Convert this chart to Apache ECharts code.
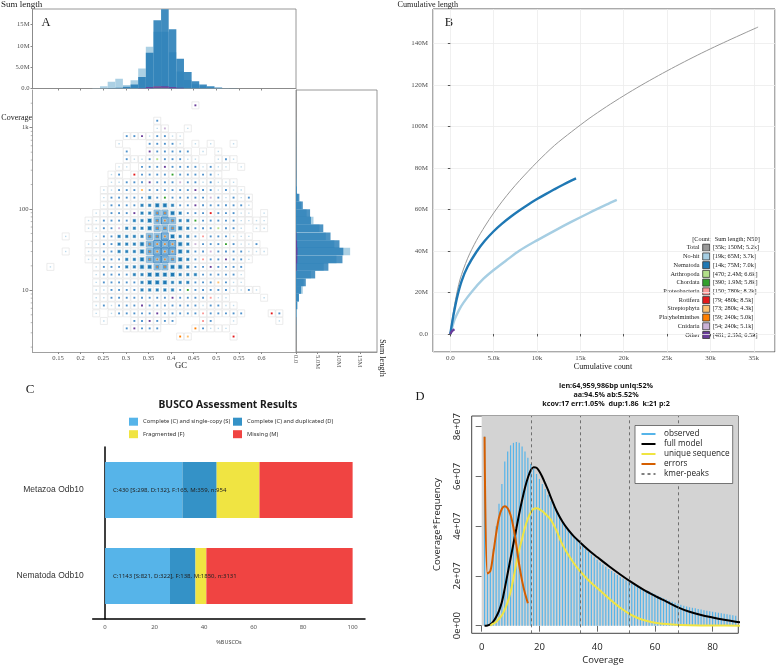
<!DOCTYPE html>
<html><head><meta charset="utf-8">
<script src="https://cdn.jsdelivr.net/npm/echarts@6.0.0/dist/echarts.min.js"></script>
<style>html,body{margin:0;padding:0;background:#fff;}#chart{width:776px;height:667px;}</style>
</head><body><div id="chart"></div>
<script>
// ================= Panel A : blob plot =================
// GC bin centres (columns c = 8..38)
const gcBins = [0.1331,0.1500,0.1669,0.1838,0.2006,0.2175,0.2344,0.2513,0.2682,0.2850,0.3019,0.3188,0.3357,0.3526,0.3694,0.3863,0.4032,0.4201,0.4370,0.4538,0.4707,0.4876,0.5045,0.5214,0.5382,0.5551,0.5720,0.5889,0.6058,0.6226,0.6395];
// coverage bin centres (rows j = -2..28)
const covBins = [1884,1516,1219,980,788,634,510,410,330,265,213,171,138,111,89,72,58,46,37,30,24,19.4,15.6,12.5,10.1,8.1,6.5,5.2,4.2,3.4,2.7];
// cell rows: [row j, first column c, size levels (-1 = empty)]
const cellRows = [
  [-2,27,[1]],
  [0,22,[1]],
  [1,22,[0,1,-1,-1,0]],
  [2,18,[1,1,1,0,1,1,0,0]],
  [3,17,[0,-1,-1,-1,1,1,1,1,0,-1,0,-1,0,-1,-1,0]],
  [4,18,[1,-1,-1,1,1,1,1,1,1,-1,0,-1,0]],
  [5,18,[1,0,0,1,1,1,1,1,0,0,-1,-1,0,1,0]],
  [6,17,[0,0,-1,1,1,1,1,1,1,1,1,0,1,0,0,-1,0]],
  [7,16,[0,1,-1,1,1,1,1,1,1,1,1,1,1,1,0]],
  [8,16,[0,0,1,1,1,1,1,1,1,1,1,1,0,1,0,0,0]],
  [9,15,[0,0,1,1,1,1,1,1,1,1,1,1,1,1,1,0,1,0,0]],
  [10,15,[0,1,1,1,1,1,2,1,1,1,1,1,1,1,1,1,0,1,0,1]],
  [11,15,[0,1,1,1,1,2,2,3,3,2,1,1,1,1,1,1,1,1,1,0]],
  [12,14,[0,0,1,1,1,1,2,2,4,4,3,2,1,1,1,1,1,1,1,0,0,-1,0]],
  [13,13,[0,0,1,1,1,1,2,2,3,4,5,4,2,2,1,1,1,1,1,1,0,0,0,0]],
  [14,13,[0,0,1,1,1,2,2,2,3,4,4,4,3,2,1,1,1,1,1,1,0,-1,0,0]],
  [15,10,[0,-1,-1,-1,0,1,1,2,2,2,2,4,4,5,3,2,2,1,1,1,1,1,0,0,0]],
  [16,13,[0,0,1,1,2,2,2,3,4,5,5,5,3,2,1,1,1,1,1,1,0,0,1]],
  [17,10,[0,-1,-1,0,0,1,1,2,2,2,3,4,5,5,5,3,2,1,1,1,1,1,1,1,0,0,0]],
  [18,13,[0,0,1,1,1,2,2,3,4,5,5,4,3,2,1,1,1,1,1,1,1,0]],
  [19,8,[0,-1,-1,-1,-1,-1,0,1,1,1,2,2,3,3,4,4,3,3,2,1,1,1,1,1,1,1]],
  [20,14,[0,1,1,1,1,2,2,3,3,3,3,2,2,2,1,1,1,1,1,0]],
  [21,14,[0,1,1,1,1,1,2,3,3,3,2,2,2,1,1,1,1,1,0,0]],
  [22,14,[0,0,1,1,1,1,2,2,2,2,2,1,1,1,1,1,1,1,0,0,1,0]],
  [23,14,[0,0,1,1,1,1,1,1,1,1,1,1,1,1,1,1,0,0,-1,-1,-1,-1,0]],
  [24,14,[0,1,0,1,1,1,1,1,1,1,1,1,1,1,0,1,1,0,0]],
  [25,14,[0,-1,0,1,1,1,1,1,1,1,1,1,1,1,1,1,1,1,1,1,-1,-1,-1,1,1]],
  [26,15,[0,-1,-1,-1,1,1,1,1,1,1,-1,-1,-1,1,1,-1,-1,0,-1,-1,-1,-1,-1,0]],
  [27,18,[1,1,1,1,1,-1,-1,-1,-1,1,1,0,0,0]],
  [28,25,[1,1,-1,-1,-1,-1,-1,1]]
];
// coloured dots: [row j, column c, taxon index]
const cellAccents = [[-2,27,10],[3,17,7],[7,19,6],[1,23,9],[2,20,10],[3,27,9],[4,21,10],[5,22,3],[6,23,10],[6,28,4],[7,24,4],[8,21,10],[8,25,9],[9,20,7],[9,27,10],[10,23,4],[10,29,9],[11,27,10],[12,29,6],[12,19,10],[13,20,4],[13,27,4],[14,30,3],[15,28,5],[16,31,4],[17,29,9],[18,28,5],[19,29,10],[20,27,6],[21,30,7],[22,26,4],[23,24,10],[23,29,5],[24,20,10],[25,22,10],[25,28,5],[25,37,6],[26,21,10],[26,28,5],[27,19,10],[27,27,8],[28,25,8],[28,26,7],[28,32,6],[14,17,9],[16,27,9],[18,31,10],[20,19,9],[22,24,9],[11,22,9],[9,30,3]];
// top histogram, sum length (M) per GC bin
const topNohit = [0,0,0,0,0,0.02,0.1,0.55,1.56,2.27,0.8,1.95,4.7,9.8,13.3,13.3,8.5,4.0,2.0,1.0,0.5,0.25,0.1,0.05,0.02,0.01,0,0,0,0,0];
const topNema  = [0,0,0,0,0,0,0.02,0.05,0.1,0.2,0.4,0.94,2.7,8.4,16.0,18.6,13.9,7.0,3.9,1.7,0.94,0.55,0.23,0.08,0.03,0,0,0,0,0,0];
const topArthro= [0,0,0,0,0,0,0,0,0,0,0,0,0,0,0.45,0.35,0,0,0,0,0,0,0,0,0,0,0,0,0,0,0];
const topOther = [0,0,0,0,0,0,0,0,0,0,0,0,0.1,0.35,0.55,0.55,0.35,0.15,0,0,0,0,0,0,0,0,0,0,0,0,0];
// right histogram, sum length (M) per coverage bin
const rightNohit = [0,0,0.01,0.01,0.02,0.02,0.03,0.04,0.05,0.05,0.1,0.2,0.5,1.2,2.5,4.1,5.5,7.0,9.0,12.7,9.5,6.5,3.5,1.8,1.6,0.6,0.3,0.2,0.05,0.02,0.01];
const rightNema  = [0,0,0,0,0.02,0.03,0.04,0.05,0.06,0.08,0.1,0.2,0.8,1.6,3.3,3.5,6.4,8.1,10.2,11.1,10.9,7.6,4.5,2.3,1.2,0.7,0.3,0.1,0.05,0.02,0.01];
const rightOther = [0,0,0,0,0,0,0,0,0,0,0,0,0,0,0,0,0,0.1,0.25,0.35,0.3,0.15,0,0,0,0,0,0,0,0,0];
const gcTicks = [0.15,0.2,0.25,0.3,0.35,0.4,0.45,0.5,0.55,0.6];
const gcTickLabels = ['0.15','0.2','0.25','0.3','0.35','0.4','0.45','0.5','0.55','0.6'];
const covTicks = [10,100,1000];
const covTickLabels = ['10','100','1k'];
const covMinorTicks = [2,3,4,5,6,7,8,9,20,30,40,50,60,70,80,90,200,300,400,500,600,700,800,900,2000];
const sumTicks = [0,5e6,10e6,15e6];
const sumTickLabels = ['0.0','5.0M','10M','15M'];

// ================= Panel B : cumulative length =================
// [cumulative count, cumulative length (M)]
const bTotal = [[0,0],[100,3.5],[300,9],[600,16.5],[1100,26],[2000,36.5],[3000,45],[4000,52],[5000,58.3],[6000,64],[7000,69.2],[8000,74],[10000,82.8],[12000,90.8],[14000,97.5],[16000,103.8],[18000,109.5],[20000,114.8],[22000,119.8],[24000,124.5],[26000,129],[28000,133.3],[30000,137.4],[32000,141.3],[34000,145.1],[35500,147.9]];
const bNohit = [[0,0],[200,3],[500,7],[1000,11.5],[1500,15],[2500,20.5],[3800,26.5],[5000,30.8],[6500,35.6],[8000,40.2],[10000,45.1],[12000,49.7],[14000,54.1],[16000,58.3],[18000,62.3],[19200,64.6]];
const bNema  = [[0,0],[150,4],[400,10],[800,18],[1300,25.5],[2000,32.5],[3000,39.5],[4000,45],[5000,49.5],[6000,53.3],[7000,56.6],[8000,59.6],[9000,62.4],[10000,65],[11000,67.4],[12000,69.7],[13000,71.9],[14000,74],[14500,75]];
const bOther = [[0,0],[100,0.8],[250,1.6],[480,2.3]];
const bXTicks = [0,5000,10000,15000,20000,25000,30000,35000];
const bXTickLabels = ['0.0','5.0k','10k','15k','20k','25k','30k','35k'];
const bYTicks = [0,20e6,40e6,60e6,80e6,100e6,120e6,140e6];
const bYTickLabels = ['0.0','20M','40M','60M','80M','100M','120M','140M'];
const taxNames = ['Total','No-hit','Nematoda','Arthropoda','Chordata','Proteobacteria','Rotifera','Streptophyta','Platyhelminthes','Cnidaria','Other'];
const taxStats = ['[35k; 150M; 5.2k]','[19k; 65M; 3.7k]','[14k; 75M; 7.0k]','[470; 2.4M; 6.6k]','[390; 1.9M; 5.8k]','[150; 780k; 8.2k]','[79; 480k; 8.5k]','[73; 280k; 4.3k]','[59; 240k; 5.0k]','[54; 240k; 5.1k]','[481; 2.3M; 6.5k]'];
const taxColors = ['#999999','#a6cee3','#1f78b4','#b2df8a','#33a02c','#fb9a99','#e31a1c','#fdbf6f','#ff7f00','#cab2d6','#6a3d9a'];

// ================= Panel C : BUSCO =================
const buscoCats = ['Metazoa Odb10','Nematoda Odb10'];
const buscoS = [298,821];
const buscoD = [132,322];
const buscoF = [165,138];
const buscoM = [359,1850];
const buscoN = [954,3131];
const buscoLegend = ['Complete (C) and single-copy (S)','Complete (C) and duplicated (D)','Fragmented (F)','Missing (M)'];
const buscoColors = ['#56B4E9','#3492C7','#F0E442','#F04442'];
const buscoTicks = [0,20,40,60,80,100];

// ================= Panel D : GenomeScope =================
const obsValues = [7.6,2.15,2.3,3.1,4.0,4.9,5.7,6.6,7.0,7.25,7.35,7.38,7.35,7.2,7.0,6.75,6.5,6.3,6.1,5.9,5.7,5.5,5.25,5.0,4.8,4.6,4.4,4.2,4.05,3.9,3.75,3.6,3.45,3.32,3.2,3.08,2.97,2.86,2.75,2.65,2.55,2.46,2.37,2.28,2.2,2.12,2.04,1.97,1.9,1.83,1.76,1.7,1.64,1.58,1.52,1.47,1.42,1.37,1.32,1.26,1.2,1.15,1.1,1.05,1.0,0.96,0.92,0.88,0.84,0.8,0.77,0.74,0.72,0.7,0.67,0.65,0.62,0.6,0.58,0.56,0.54,0.52,0.5,0.48,0.46,0.44,0.42,0.4];
const modelCov = [1,2,3,4,5,6,7,8,9,10,11,12,13,14,15,16,17,18,19,20,21,22,23,24,26,28,30,32,34,36,38,40,44,48,52,56,60,64,68,72,76,80,84,88,90];
const modelVal = [0,0.01,0.05,0.16,0.35,0.6,0.95,1.5,2.1,2.7,3.3,3.9,4.5,5.05,5.55,5.95,6.25,6.37,6.35,6.2,5.98,5.72,5.45,5.15,4.6,4.18,3.85,3.58,3.36,3.14,2.94,2.76,2.4,2.06,1.74,1.45,1.2,0.97,0.74,0.56,0.43,0.33,0.24,0.16,0.13];
const uniqueCov = [3,4,5,6,7,8,9,10,11,12,13,14,15,16,17,18,19,20,21,22,24,26,28,30,32,34,36,38,40,44,48,52,56,60,66,72,80,90];
const uniqueVal = [0,0.08,0.15,0.28,0.42,0.65,0.95,1.35,1.9,2.5,3.05,3.5,3.95,4.3,4.55,4.7,4.72,4.68,4.6,4.5,4.25,3.8,3.25,2.85,2.5,2.2,1.95,1.72,1.52,1.1,0.72,0.42,0.23,0.12,0.05,0.02,0.01,0];
const errorCov = [1,2,3,4,5,6,7,8,9,10,11,12,13,14,15,16];
const errorVal = [7.6,2.1,2.2,2.9,3.7,4.35,4.7,4.8,4.72,4.45,3.95,3.25,2.45,1.8,1.3,0.9];
const kmerPeaks = [17,34,51,68];
const dXTicks = [0,20,40,60,80];
const dYTicks = [0,2e7,4e7,6e7,8e7];
const dYTickLabels = ['0e+00','2e+07','4e+07','6e+07','8e+07'];
const dTitle = ['len:64,959,986bp uniq:52%','aa:94.5% ab:5.52%','kcov:17 err:1.05%  dup:1.86  k:21 p:2'];
const dLegendNames = ['observed','full model','unique sequence','errors','kmer-peaks'];
const dLegendColors = ['#56B4E9','#000000','#F0E442','#D55E00','#000000'];

// ================= build =================
const SERIF = 'Liberation Serif';
const lookup = (ticks, labels) => v => {
  const i = ticks.findIndex(t => Math.abs(t - v) <= 1e-6 * Math.max(1, Math.abs(t)));
  return i >= 0 ? labels[i] : '';
};
const gcMin = 0.0935, gcMax = 0.6763, covMin = 1.742, covMax = 2909;
const gcHalf = (gcBins[gcBins.length - 1] - gcBins[0]) / (gcBins.length - 1) / 2;
const covHalf = Math.pow(covBins[0] / covBins[covBins.length - 1], 0.5 / (covBins.length - 1));

const accentMap = {};
cellAccents.forEach(([j, c, t]) => { accentMap[j + ':' + c] = t; });
const cellData = [];
cellRows.forEach(([j, c0, lv]) => lv.forEach((l, k) => {
  if (l < 0) return;
  const c = c0 + k;
  const a = accentMap[j + ':' + c];
  cellData.push([gcBins[c - 8], covBins[j + 2], l, a === undefined ? -1 : a]);
}));

function sq(p, s, fill, stroke, lw) {
  return {type: 'rect', shape: {x: p[0] - s / 2, y: p[1] - s / 2, width: s, height: s},
    style: {fill: fill, stroke: stroke || null, lineWidth: lw || 0}};
}
function renderCell(params, api) {
  const p = api.coord([api.value(0), api.value(1)]);
  const lvl = api.value(2), acc = api.value(3);
  const ch = [sq(p, 7, '#ffffff', '#e4e4e4', 0.7)];
  const accCol = acc >= 0 ? taxColors[acc] : null;
  if (lvl === 0) ch.push(sq(p, 1.4, '#b9d9ec'));
  else if (lvl === 1) ch.push(sq(p, 1.9, accCol || '#4f92cc'));
  else if (lvl === 2) { ch.push(sq(p, 3.6, '#a6cee3')); ch.push(sq(p, 2.4, '#2a7fba')); }
  else if (lvl === 3) { ch.push(sq(p, 4.8, '#a6cee3')); ch.push(sq(p, 3.2, '#1f78b4')); }
  else if (lvl === 4) { ch.push(sq(p, 6.2, '#a6cee3', '#6aa5d3', 0.6)); ch.push(sq(p, 3.6, '#5b9bd0')); ch.push(sq(p, 1.6, '#e0893a')); }
  else { ch.push(sq(p, 7, '#9ac5e2', '#2f7fbf', 0.9)); ch.push(sq(p, 4.2, '#a6cee3', '#5e9bd0', 0.6)); ch.push(sq(p, 1.8, '#e0893a')); }
  return {type: 'group', children: ch};
}
function vBar(color, op) {
  return (params, api) => {
    const x = api.value(0), h = api.value(1);
    if (!h) return null;
    const a = api.coord([x - gcHalf, 0]), b = api.coord([x + gcHalf, h]);
    return {type: 'rect', shape: {x: a[0], y: b[1], width: b[0] - a[0], height: a[1] - b[1]}, style: {fill: color, opacity: op}};
  };
}
function hBar(color, op) {
  return (params, api) => {
    const v = api.value(0), cov = api.value(1);
    if (!v) return null;
    const a = api.coord([0, cov / covHalf]), b = api.coord([v, cov * covHalf]);
    return {type: 'rect', shape: {x: a[0], y: b[1], width: b[0] - a[0], height: a[1] - b[1]}, style: {fill: color, opacity: op}};
  };
}
function minorTick(len) {
  return (params, api) => {
    const yy = api.coord([api.value(0), api.value(1)])[1];
    const x = params.coordSys.x;
    return {type: 'line', shape: {x1: x - len, y1: yy, x2: x, y2: yy}, style: {stroke: '#888', lineWidth: 0.6}};
  };
}
const topSeries = (arr, color, op) => ({type: 'custom', xAxisIndex: 0, yAxisIndex: 0, renderItem: vBar(color, op),
  data: arr.map((v, i) => [gcBins[i], v * 1e6]), clip: true, silent: true});
const rightSeries = (arr, color, op) => ({type: 'custom', xAxisIndex: 2, yAxisIndex: 2, renderItem: hBar(color, op),
  data: arr.map((v, i) => [v * 1e6, covBins[i]]), clip: true, silent: true});
const bLine = (data, color, w) => ({type: 'line', xAxisIndex: 3, yAxisIndex: 3, showSymbol: false, smooth: 0.3,
  data: data.map(d => [d[0], d[1] * 1e6]), lineStyle: {color: color, width: w}, itemStyle: {color: color}, silent: true});
const dLine = (xs, ys, color, w, extra) => Object.assign({type: 'line', xAxisIndex: 5, yAxisIndex: 5, showSymbol: false, smooth: 0.35,
  data: xs.map((x, i) => [x, ys[i] * 1e7]), lineStyle: {color: color, width: w}, itemStyle: {color: color}, silent: true, clip: true}, extra || {});

const axisGray = {lineStyle: {color: '#888', width: 0.8}};
const smallSerif = {fontFamily: SERIF, fontSize: 6.6, color: '#4d4d4d'};

const busText = buscoCats.map((c, i) => 'C:' + (buscoS[i] + buscoD[i]) + ' [S:' + buscoS[i] + ', D:' + buscoD[i] + '], F:' + buscoF[i] + ', M:' + buscoM[i] + ', n:' + buscoN[i]);
const busParts = [buscoS, buscoD, buscoF, buscoM];

const series = [
  topSeries(topNohit, '#a6cee3', 0.95),
  topSeries(topNema, '#1f78b4', 0.85),
  topSeries(topArthro, '#b2df8a', 0.9),
  topSeries(topOther, '#6a3d9a', 0.9),
  {type: 'custom', xAxisIndex: 1, yAxisIndex: 1, renderItem: renderCell, data: cellData, clip: true, silent: true},
  {type: 'custom', xAxisIndex: 1, yAxisIndex: 1, renderItem: minorTick(1.8), data: covMinorTicks.map(v => [gcMin, v]), clip: false, silent: true},
  rightSeries(rightNohit, '#a6cee3', 0.95),
  rightSeries(rightNema, '#1f78b4', 0.8),
  rightSeries(rightOther, '#6a3d9a', 0.9),
  bLine(bTotal, '#999999', 1),
  bLine(bNohit, '#a6cee3', 2.4),
  bLine(bNema, '#1f78b4', 2.4),
  bLine(bOther, '#6a3d9a', 2.4)
];
busParts.forEach((arr, k) => {
  series.push({type: 'bar', xAxisIndex: 4, yAxisIndex: 4, stack: 'busco', name: buscoLegend[k], barWidth: 56, silent: true,
    itemStyle: {color: buscoColors[k]},
    data: arr.map((v, i) => v / buscoN[i] * 100),
    label: k === 0 ? {show: true, position: 'insideLeft', distance: 8, formatter: p => busText[p.dataIndex],
      fontFamily: 'Noto Sans', fontSize: 6, color: '#222'} : {show: false}});
});
// Panel D
series.push({type: 'custom', xAxisIndex: 5, yAxisIndex: 5, silent: true, clip: true, data: [[0, 0]],
  renderItem: (params, api) => {
    const p = api.coord([0, 0]); const cs = params.coordSys;
    return {type: 'rect', shape: {x: p[0], y: cs.y, width: cs.x + cs.width - p[0], height: p[1] - cs.y}, style: {fill: '#d3d3d3'}};
  }});
series.push({type: 'bar', xAxisIndex: 5, yAxisIndex: 5, barWidth: 1.2, silent: true, clip: true,
  itemStyle: {color: '#56B4E9'}, data: obsValues.map((v, i) => [i + 1, v * 1e7])});
series.push(dLine(modelCov, modelVal, '#000000', 2, {markLine: {silent: true, symbol: ['none', 'none'], label: {show: false},
  lineStyle: {type: [3, 3], color: '#555', width: 0.8}, data: kmerPeaks.map(v => ({xAxis: v}))}}));
series.push(dLine(uniqueCov, uniqueVal, '#F0E442', 2));
series.push(dLine(errorCov, errorVal, '#D55E00', 2));

// ---------- graphic texts ----------
function txt(text, x, y, st, rot) {
  const s = Object.assign({text: text, fill: '#1a1a1a', fontFamily: SERIF, fontSize: 9, align: 'left', verticalAlign: 'middle'}, st || {});
  s.textAlign = s.align; s.textVerticalAlign = s.verticalAlign;
  const el = {type: 'text', x: x, y: y, style: s, silent: true};
  if (rot) el.rotation = rot;
  return el;
}
const g = [];
g.push(txt('Sum length', 1, 4.5, {fontSize: 9}));
g.push(txt('A', 46, 23, {fontSize: 12.5, align: 'center'}));
g.push(txt('Coverage', 32, 118, {fontSize: 8, align: 'right'}));
g.push(txt('GC', 181, 365.5, {fontSize: 8.6, align: 'center'}));
g.push(txt('Sum length', 382, 358, {fontSize: 8.2, align: 'center'}, -Math.PI / 2));
g.push(txt('Cumulative length', 397.5, 4.5, {fontSize: 8.2}));
g.push(txt('B', 449, 22.5, {fontSize: 12.5, align: 'center'}));
g.push(txt('Cumulative count', 603, 367, {fontSize: 8.2, align: 'center'}));
g.push(txt('[Count;  Sum length; N50]', 726, 239, {fontSize: 6.3, align: 'center'}));
taxNames.forEach((n, i) => {
  const y = 247.7 + 8.73 * i;
  g.push(txt(n, 699.5, y, {fontSize: 6.3, align: 'right'}));
  g.push({type: 'rect', shape: {x: 702.7, y: y - 3.5, width: 7, height: 7}, style: {fill: taxColors[i], stroke: '#333', lineWidth: 0.8}, silent: true});
  g.push(txt(taxStats[i], 712.7, y, {fontSize: 6.3}));
});
g.push(txt('C', 30, 389.5, {fontSize: 13, align: 'center'}));
g.push(txt('BUSCO Assessment Results', 228, 405, {fontFamily: 'Noto Sans', fontWeight: 'bold', fontSize: 10.3, align: 'center'}));
buscoLegend.forEach((n, k) => {
  const x = k % 2 === 0 ? 129 : 233, y = k < 2 ? 421.7 : 434.2;
  g.push({type: 'rect', shape: {x: x, y: y - 4, width: 9, height: 8}, style: {fill: buscoColors[k]}, silent: true});
  g.push(txt(n, x + 14, y, {fontFamily: 'Noto Sans', fontSize: 5.8, fill: '#333'}));
});
g.push(txt('%BUSCOs', 229, 642, {fontFamily: 'Noto Sans', fontSize: 5.5, fill: '#444', align: 'center'}));
g.push(txt('D', 420, 396.5, {fontSize: 12.5, align: 'center'}));
dTitle.forEach((t, i) => g.push(txt(t, 606, 386 + 9 * i, {fontFamily: 'Open Sans', fontWeight: 'bold', fontSize: 7.2, align: 'center', fill: '#111'})));
g.push(txt('Coverage*Frequency', 437, 524.5, {fontFamily: 'Open Sans', fontSize: 9.5, align: 'center', fill: '#222'}, Math.PI / 2));
g.push(txt('Coverage', 603, 660.5, {fontFamily: 'Open Sans', fontSize: 9.5, align: 'center', fill: '#222'}));
g.push({type: 'rect', shape: {x: 635, y: 425.5, width: 97.7, height: 58}, style: {fill: '#ffffff', stroke: '#555', lineWidth: 0.8}, z: 100, silent: true});
dLegendNames.forEach((n, i) => {
  const y = 434 + 10 * i;
  g.push({type: 'line', shape: {x1: 641.5, y1: y, x2: 655.5, y2: y}, z: 101, silent: true,
    style: {stroke: dLegendColors[i], lineWidth: i === 4 ? 1 : 2, lineDash: i === 4 ? [3, 3] : null}});
  const t = txt(n, 664, y, {fontFamily: 'Open Sans', fontSize: 8.2, fill: '#222'}); t.z = 101; g.push(t);
});

const option = {
  animation: false,
  backgroundColor: '#ffffff',
  grid: [
    {left: 32.5, top: 9, width: 263.5, height: 79.5, show: true, borderColor: '#7f7f7f', borderWidth: 0.8, outerBoundsMode: 'none'},
    {left: 32.5, top: 90, width: 263.5, height: 262, outerBoundsMode: 'none'},
    {left: 296, top: 90, width: 81, height: 262, show: true, borderColor: '#7f7f7f', borderWidth: 0.8, outerBoundsMode: 'none'},
    {left: 433, top: 9, width: 342, height: 343, show: true, borderColor: '#555', borderWidth: 1, outerBoundsMode: 'none'},
    {left: 92.7, top: 447, width: 272.3, height: 172, outerBoundsMode: 'none'},
    {left: 471.7, top: 416, width: 266.6, height: 217.3, show: true, borderColor: '#444', borderWidth: 1, outerBoundsMode: 'none'}
  ],
  xAxis: [
    {gridIndex: 0, type: 'value', min: gcMin, max: gcMax, axisLine: axisGray, splitLine: {show: false},
      axisTick: {customValues: gcTicks, length: 2, lineStyle: {color: '#888'}}, axisLabel: {show: false}},
    {gridIndex: 1, type: 'value', min: gcMin, max: gcMax, axisLine: axisGray, splitLine: {show: false},
      axisTick: {customValues: gcTicks, length: 2, lineStyle: {color: '#888'}},
      axisLabel: Object.assign({customValues: gcTicks, formatter: lookup(gcTicks, gcTickLabels), margin: 3}, smallSerif)},
    {gridIndex: 2, type: 'value', min: 0, max: 19e6, axisLine: axisGray, splitLine: {show: false},
      axisTick: {customValues: sumTicks, length: 2, lineStyle: {color: '#888'}},
      axisLabel: Object.assign({customValues: sumTicks, formatter: lookup(sumTicks, sumTickLabels), rotate: -90, margin: 3}, smallSerif)},
    {gridIndex: 3, type: 'value', min: -2000, max: 37450, splitNumber: 8, axisLine: {show: false},
      axisTick: {length: 2.5, lineStyle: {color: '#555'}},
      splitLine: {show: true, lineStyle: {color: '#ececec', width: 0.8}},
      axisLabel: Object.assign({formatter: lookup(bXTicks, bXTickLabels), showMinLabel: false, showMaxLabel: false, margin: 3}, smallSerif, {fontSize: 7})},
    {gridIndex: 4, type: 'value', min: -5, max: 105, axisLine: {show: true, lineStyle: {color: '#000', width: 1.5}}, splitLine: {show: false},
      axisTick: {customValues: buscoTicks, length: 3, lineStyle: {color: '#555', width: 0.7}},
      axisLabel: {customValues: buscoTicks, fontFamily: 'Noto Sans', fontSize: 6, color: '#555', margin: 5}},
    {gridIndex: 5, type: 'value', min: -3.46, max: 88.9, axisLine: {show: false}, splitLine: {show: false},
      axisTick: {customValues: dXTicks, length: 6, lineStyle: {color: '#444', width: 0.8}},
      axisLabel: {customValues: dXTicks, fontFamily: 'Open Sans', fontSize: 9.5, color: '#222', margin: 9}}
  ],
  yAxis: [
    {gridIndex: 0, type: 'value', min: 0, max: 18.65e6, axisLine: {show: true, lineStyle: {color: '#888', width: 0.8}}, splitLine: {show: false},
      axisTick: {customValues: sumTicks, length: 2, lineStyle: {color: '#888'}},
      axisLabel: Object.assign({customValues: sumTicks, formatter: lookup(sumTicks, sumTickLabels), margin: 3}, smallSerif)},
    {gridIndex: 1, type: 'log', logBase: 10, min: covMin, max: covMax, axisLine: {show: true, lineStyle: {color: '#888', width: 0.8}}, splitLine: {show: false},
      axisTick: {length: 3, lineStyle: {color: '#888'}},
      axisLabel: Object.assign({formatter: lookup(covTicks, covTickLabels), showMinLabel: false, showMaxLabel: false, margin: 4}, smallSerif)},
    {gridIndex: 2, type: 'log', logBase: 10, min: covMin, max: covMax, axisLine: {show: true, lineStyle: {color: '#888', width: 0.8}}, splitLine: {show: false},
      axisTick: {show: false}, axisLabel: {show: false}},
    {gridIndex: 3, type: 'value', min: -8.7e6, max: 156.6e6, splitNumber: 8, axisLine: {show: false},
      axisTick: {length: 2.5, lineStyle: {color: '#555'}},
      splitLine: {show: true, lineStyle: {color: '#ececec', width: 0.8}},
      axisLabel: Object.assign({formatter: lookup(bYTicks, bYTickLabels), showMinLabel: false, showMaxLabel: false, margin: 5}, smallSerif, {fontSize: 7})},
    {gridIndex: 4, type: 'category', data: buscoCats, inverse: true, axisLine: {show: true, lineStyle: {color: '#000', width: 1.5}},
      axisTick: {show: false}, axisLabel: {fontFamily: 'Liberation Sans', fontSize: 8.5, color: '#333', margin: 9}},
    {gridIndex: 5, type: 'value', min: -0.3055e7, max: 8.43e7, axisLine: {show: false}, splitLine: {show: false},
      axisTick: {customValues: dYTicks, length: 6, lineStyle: {color: '#444', width: 0.8}},
      axisLabel: {customValues: dYTicks, formatter: lookup(dYTicks, dYTickLabels), rotate: 90, fontFamily: 'Open Sans', fontSize: 9.5, color: '#222', margin: 9}}
  ],
  series: series,
  graphic: {elements: g}
};
const chart = echarts.init(document.getElementById('chart'), null, {renderer: 'canvas', width: 776, height: 667});
chart.setOption(option);
</script></body></html>
